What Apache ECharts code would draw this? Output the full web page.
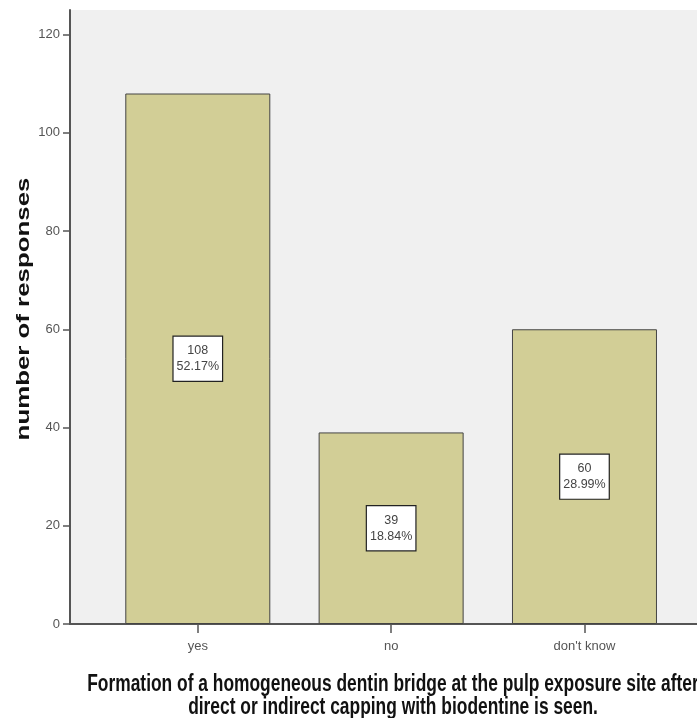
<!DOCTYPE html>
<html>
<head>
<meta charset="utf-8">
<script src="https://cdn.jsdelivr.net/npm/echarts@6/dist/echarts.min.js"></script>
<style>
html,body{margin:0;padding:0;background:#fff;}
#main{width:697px;height:718px;}
</style>
</head>
<body>
<div id="main"></div>
<script>
var categories = ['yes', 'no', "don't know"];
var counts = [108, 39, 60];
var percents = ['52.17%', '18.84%', '28.99%'];
var yTicks = [0, 20, 40, 60, 80, 100, 120];
var positions = [1, 2, 3];

var FONT = '"Liberation Sans", Arial, sans-serif';

var chart = echarts.init(document.getElementById('main'), null, {renderer: 'canvas'});
var barData = positions.map(function (p, i) { return [p, counts[i]]; });

chart.setOption({
  animation: false,
  backgroundColor: '#ffffff',
  grid: {
    left: 70, right: 0, top: 10, bottom: 94,
    show: true, backgroundColor: '#f0f0f0', borderWidth: 0
  },
  xAxis: {
    type: 'value',
    min: 0.339, max: 3.582,
    splitLine: {show: false},
    axisLine: {show: true, lineStyle: {color: '#555', width: 2}},
    axisTick: {show: true, customValues: positions, length: 9, lineStyle: {color: '#555', width: 1.5}},
    axisLabel: {
      customValues: positions,
      margin: 16,
      color: '#555',
      fontSize: 13,
      fontFamily: FONT,
      formatter: function (v) { return categories[Math.round(v) - 1]; }
    }
  },
  yAxis: {
    type: 'value',
    min: 0, max: 125,
    splitLine: {show: false},
    axisLine: {show: true, lineStyle: {color: '#555', width: 2}},
    axisTick: {show: true, customValues: yTicks, length: 7, lineStyle: {color: '#555', width: 1.5}},
    axisLabel: {
      customValues: yTicks,
      margin: 10,
      color: '#555',
      fontSize: 13,
      fontFamily: FONT
    }
  },
  graphic: [
    {
      type: 'text',
      x: 24, y: 309,
      rotation: Math.PI / 2,
      scaleX: 1.36,
      style: {
        text: 'number of responses',
        font: 'bold 19px "Liberation Sans", Arial, sans-serif',
        fill: '#111',
        align: 'center',
        verticalAlign: 'middle'
      }
    },
    {
      type: 'text',
      x: 393, y: 696,
      scaleY: 1.35,
      style: {
        text: 'Formation of a homogeneous dentin bridge at the pulp exposure site after\ndirect or indirect capping with biodentine is seen.',
        font: 'bold 17.4px "Liberation Sans", Arial, sans-serif',
        lineHeight: 16.5,
        fill: '#111',
        align: 'center',
        verticalAlign: 'middle'
      }
    }
  ],
  series: [{
    type: 'bar',
    data: barData,
    barWidth: 145,
    itemStyle: {color: '#d2ce96', borderColor: '#444', borderWidth: 1},
    label: {
      show: true,
      position: 'inside',
      formatter: function (p) { return counts[p.dataIndex] + '\n' + percents[p.dataIndex]; },
      backgroundColor: '#ffffff',
      borderColor: '#222',
      borderWidth: 1.2,
      padding: [6, 3],
      lineHeight: 16,
      fontSize: 12.5,
      fontFamily: FONT,
      color: '#444'
    }
  }]
});
</script>
</body>
</html>
